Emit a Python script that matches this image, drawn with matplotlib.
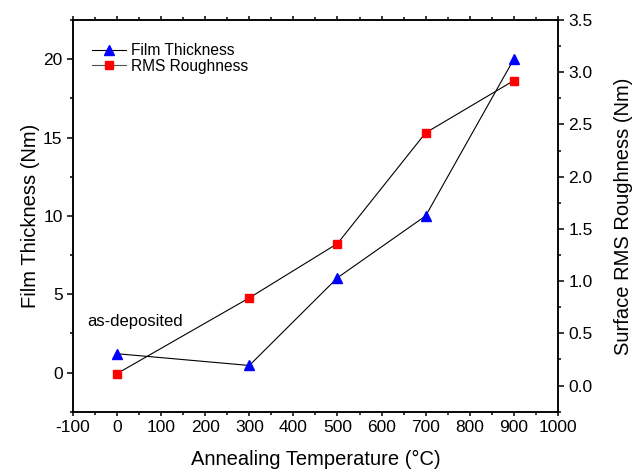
import matplotlib
matplotlib.use("Agg")
import matplotlib.pyplot as plt
from matplotlib.ticker import MultipleLocator, FormatStrFormatter

plt.rcParams['font.family'] = ['Liberation Sans', 'DejaVu Sans']
plt.rcParams['axes.unicode_minus'] = False

# Data
temperature = [0, 300, 500, 700, 900]
thickness = [1.2, 0.45, 6.05, 10.0, 20.0]
roughness = [0.115, 0.84, 1.36, 2.42, 2.92]

fig = plt.figure(figsize=(6.42, 4.73), dpi=100)
ax = fig.add_axes([0.1137, 0.1296, 0.7553, 0.8281])
ax2 = ax.twinx()

ax.plot(temperature, thickness, color="black", linewidth=0.8,
        marker="^", markersize=7, markerfacecolor="#0000FF", markeredgecolor="#0000FF",
        label="Film Thickness")
ax2.plot(temperature, roughness, color="black", linewidth=0.8,
         marker="s", markersize=5.5, markerfacecolor="#FF0000", markeredgecolor="#FF0000")
# legend proxy for second series
ax.plot([], [], color="#505050", linewidth=0.8, marker="s", markersize=5.5,
        markerfacecolor="#FF0000", markeredgecolor="#FF0000", label="RMS Roughness")

ax.set_xlim(-100, 1000)
ax.set_ylim(-2.5, 22.5)
ax2.set_ylim(-0.25, 3.5)

ax.xaxis.set_major_locator(MultipleLocator(100))
ax.xaxis.set_minor_locator(MultipleLocator(50))
ax.yaxis.set_major_locator(MultipleLocator(5))
ax.yaxis.set_minor_locator(MultipleLocator(2.5))
ax2.yaxis.set_major_locator(MultipleLocator(0.5))
ax2.yaxis.set_minor_locator(MultipleLocator(0.25))
ax2.yaxis.set_major_formatter(FormatStrFormatter('%.1f'))

for a in (ax, ax2):
    for s in a.spines.values():
        s.set_linewidth(1.1)
    a.tick_params(which="major", direction="out", length=4.5, width=1.1, labelsize=12.5, pad=3)
    a.tick_params(which="minor", direction="out", length=2.5, width=1.1)
ax.tick_params(axis="x", which="both", top=True)
ax.tick_params(axis="x", which="major", top=True, length=3)

ax.set_xlabel("Annealing Temperature (\u00b0C)", fontsize=14.5, labelpad=11)
ax.set_ylabel("Film Thickness (Nm)", fontsize=14.5, labelpad=2)
ax2.set_ylabel("Surface RMS Roughness (Nm)", fontsize=14.5, labelpad=15)

ax.text(-68, 3.0, "as-deposited", fontsize=12)

ax.legend(loc="upper left", bbox_to_anchor=(0.02, 0.965), frameon=False,
          fontsize=11.2, handlelength=2.2, handletextpad=0.3, labelspacing=0.05,
          borderaxespad=0.2)

fig.savefig("out.png", dpi=100)
